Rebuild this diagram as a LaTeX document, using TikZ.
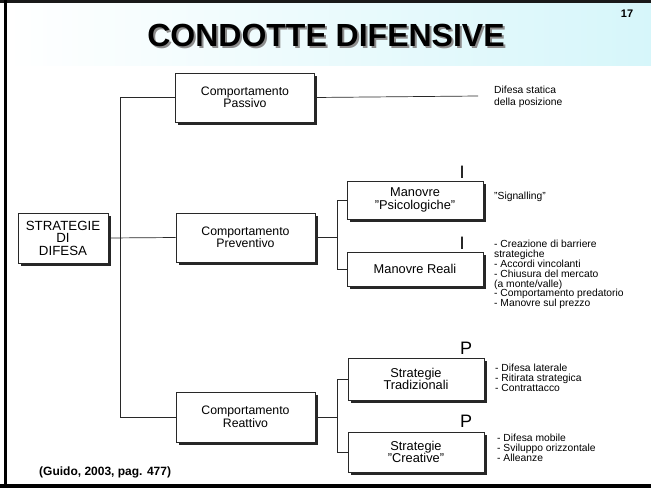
\documentclass[tikz,border=0pt]{standalone}
\usepackage{fontspec}
\setmainfont{Liberation Sans}
\usetikzlibrary{shadows}
\definecolor{bandcyan}{RGB}{214,246,250}
\definecolor{inkgray}{RGB}{40,40,40}

\begin{document}
\begin{tikzpicture}[x=1pt,y=-1pt,
  box/.style={draw=inkgray, line width=0.8pt, fill=white, align=center, inner sep=1pt,
    general shadow={shadow xshift=2.5pt, shadow yshift=-2.5pt, fill=black!85, draw=none}},
  midbox/.style={box, minimum width=139pt, minimum height=49pt,
    font=\fontsize{12.3}{12.5}\selectfont},
  subbox/.style={box, minimum width=136pt, font=\fontsize{12.8}{12.5}\selectfont},
  wire/.style={draw=inkgray, line width=0.7pt},
  note/.style={align=left, anchor=west, inner sep=0pt,
    font=\fontsize{10.3}{9.9}\selectfont},
  tag/.style={inner sep=0pt, font=\fontsize{18}{18}\selectfont}]

\useasboundingbox (0,0) rectangle (651,488);
\fill[white] (0,0) rectangle (651,488);

% title band and frame
\shade[left color=white, right color=bandcyan] (7,2) rectangle (651,65);
\fill[black!90] (0,0) rectangle (651,2.5);
\fill[black] (4,0) rectangle (7,488);
\fill[black] (0,484) rectangle (651,488);

\node[font=\bfseries\fontsize{32}{34}\selectfont, text=black!45] (titleshadow) at (328,37) {CONDOTTE DIFENSIVE};
\node[font=\bfseries\fontsize{32}{34}\selectfont] (title) at (326,35) {CONDOTTE DIFENSIVE};
\node[font=\bfseries\fontsize{11}{11}\selectfont] (pagenum) at (627,14) {17};

% boxes
\node[box, minimum width=90pt, minimum height=50pt, font=\fontsize{13.3}{12.5}\selectfont]
  (strat) at (63,238) {STRATEGIE\\DI\\DIFESA};
\node[midbox] (pass) at (245,97.5) {Comportamento\\Passivo};
\node[midbox] (prev) at (245.5,237.5) {Comportamento\\Preventivo};
\node[midbox, minimum height=50pt] (reat) at (245.5,417) {Comportamento\\Reattivo};

\node[subbox, minimum height=38pt] (psico) at (415,200) {Manovre\\"Psicologiche"};
\node[subbox, minimum height=34pt] (reali) at (415,269) {Manovre Reali};
\node[subbox, minimum height=42pt] (trad) at (416,379) {Strategie\\Tradizionali};
\node[subbox, minimum height=40pt] (creat) at (416,452) {Strategie\\"Creative"};

% junction columns
\coordinate (spine) at (120,0);
\coordinate (pj) at (337,0);
\coordinate (pend) at (478,96);

% connectors
\draw[wire] (strat.east) -- (prev.west);
\draw[wire] (pass.west) -- (pass.west -| spine) -- (reat.west -| spine) -- (reat.west);
\draw[wire] (pass.east) -- (pend);
\draw[wire] (prev.east) -- (prev.east -| pj);
\draw[wire] (psico.west) -- (psico.west -| pj) -- (reali.west -| pj) -- (reali.west);
\draw[wire] (reat.east) -- (reat.east -| pj);
\draw[wire] (trad.west) -- (trad.west -| pj) -- (creat.west -| pj) -- (creat.west);

% markers above the sub-boxes
\node[tag] (mpsico) at (462,172) {I};
\node[tag] (mreali) at (462,243) {I};
\node[tag] (mtrad) at (466,348) {P};
\node[tag] (mcreat) at (466,421) {P};

% descriptions
\node[note, font=\fontsize{10.3}{11.5}\selectfont] (dpass) at (494,97) {Difesa statica\\della posizione};
\node[note] (dpsico) at (494,197) {"Signalling"};
\node[note] (dreali) at (494,274.5) {- Creazione di barriere\\strategiche\\- Accordi vincolanti\\- Chiusura del mercato\\(a monte/valle)\\- Comportamento predatorio\\- Manovre sul prezzo};
\node[note] (dtrad) at (495,378) {- Difesa laterale\\- Ritirata strategica\\- Contrattacco};
\node[note] (dcreat) at (497,448) {- Difesa mobile\\- Sviluppo orizzontale\\- Alleanze};

\node[anchor=west, inner sep=0pt, font=\bfseries\fontsize{12}{12}\selectfont] (source) at (39,472) {(Guido, 2003, pag. 477)};
\end{tikzpicture}
\end{document}
